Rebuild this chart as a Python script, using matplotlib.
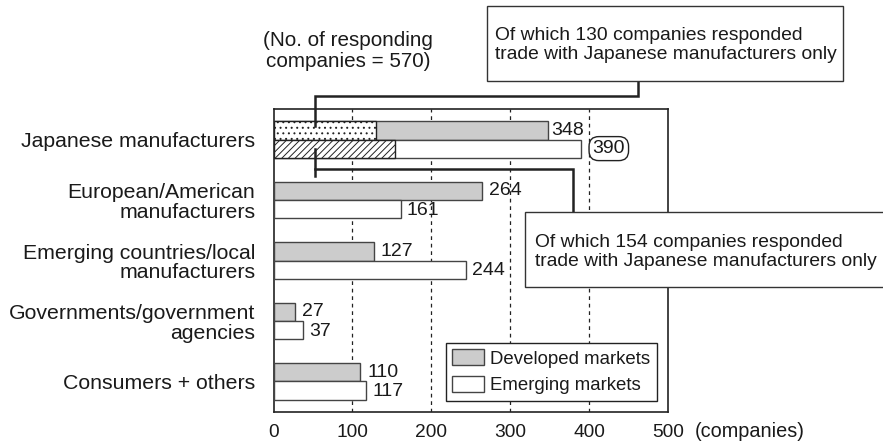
import numpy as np
import matplotlib
matplotlib.use('Agg')
import matplotlib.pyplot as plt
from matplotlib.patches import Rectangle

plt.rcParams['font.family'] = ['Liberation Sans', 'DejaVu Sans']
plt.rcParams['hatch.linewidth'] = 0.7

categories = ['Japanese manufacturers',
              'European/American\nmanufacturers',
              'Emerging countries/local\nmanufacturers',
              'Governments/government\nagencies',
              'Consumers + others']
developed = [348, 264, 127, 27, 110]
emerging = [390, 161, 244, 37, 117]
jp_only_developed = 130
jp_only_emerging = 154
xticks = [0, 100, 200, 300, 400, 500]

W, H = 883, 444
fig = plt.figure(figsize=(W / 100, H / 100), dpi=100)
ax = fig.add_axes([273.5 / W, 1 - 411.7 / H, 394.8 / W, 302.4 / H])

y = np.arange(len(categories))
h = 0.3
edge = '#444444'
txt = '#1a1a1a'

ax.barh(y - h / 2, developed, height=h, color='#cccccc', edgecolor=edge,
        linewidth=1, label='Developed markets', zorder=3)
ax.barh(y + h / 2, emerging, height=h, color='white', edgecolor=edge,
        linewidth=1, label='Emerging markets', zorder=3)

# Japanese-only parts of the first group
ax.barh(y[0] - h / 2, jp_only_developed, height=h, color='white',
        edgecolor='#222222', hatch='...', linewidth=1, zorder=4)
ax.barh(y[0] + h / 2, jp_only_emerging, height=h, color='white',
        edgecolor='#222222', hatch='/////', linewidth=1, zorder=4)

# value labels
for i, v in enumerate(developed):
    off = 3 if i == 0 else 7
    ax.annotate(str(v), (v, y[i] - h / 2), xytext=(off * 0.72, 0),
                textcoords='offset points', va='center', ha='left',
                fontsize=14, color=txt)
for i, v in enumerate(emerging):
    if i == 0:
        ax.annotate(str(v), (v, y[i] + h / 2), xytext=(8, 0),
                    textcoords='offset points', va='center', ha='left',
                    fontsize=14, color=txt,
                    bbox=dict(boxstyle='round,pad=0.18,rounding_size=0.5',
                              fc='white', ec='#222222', lw=1))
    else:
        ax.annotate(str(v), (v, y[i] + h / 2), xytext=(4.5, -1),
                    textcoords='offset points', va='center', ha='left',
                    fontsize=14, color=txt)

ax.set_xlim(0, 500)
ax.set_ylim(len(categories) - 0.5, -0.5)
ax.set_xticks(xticks)
ax.set_xticklabels([str(t) for t in xticks], fontsize=13.8, color=txt)
ax.set_yticks(y)
ax.set_yticklabels(categories, fontsize=15.3, color=txt, linespacing=1.05)
ax.tick_params(length=0)
ax.tick_params(axis='x', pad=8.5)
ax.tick_params(axis='y', pad=13)
for x in xticks[1:-1]:
    ax.axvline(x, color='#222222', linestyle=(0, (3, 3)), linewidth=0.9, zorder=1)
for s in ax.spines.values():
    s.set_color('#222222')
    s.set_linewidth(1.2)

leg = ax.legend(loc='lower right', bbox_to_anchor=(0.9706, 0.0354),
                fancybox=False, edgecolor='#222222', framealpha=1,
                fontsize=13.4, handlelength=1.67, handleheight=0.97,
                labelspacing=0.45, borderpad=0.35, handletextpad=0.35,
                borderaxespad=0)
leg.get_frame().set_linewidth(1)
for t in leg.get_texts():
    t.set_color(txt)

fig.text(695 / W, 1 - 431 / H, '(companies)', fontsize=14.3, color=txt,
         va='center', ha='left')
fig.text(348 / W, 1 - 51 / H, '(No. of responding\ncompanies = 570)',
         fontsize=14.9, color=txt, ha='center', va='center',
         linespacing=1.1)

# callout boxes
fig.patches.append(Rectangle((486.7 / W, 1 - 81 / H), (843 - 486.7) / W, 75 / H,
                             transform=fig.transFigure, fc='white',
                             ec='#333333', lw=1))
fig.text(495 / W, 1 - 45 / H,
         'Of which 130 companies responded\ntrade with Japanese manufacturers only',
         fontsize=13.9, color=txt, ha='left', va='center', linespacing=1.2)
fig.patches.append(Rectangle((525 / W, 1 - 287 / H), (920 - 525) / W, 75.3 / H,
                             transform=fig.transFigure, fc='white',
                             ec='#333333', lw=1, zorder=5))
fig.text(535 / W, 1 - 252 / H,
         'Of which 154 companies responded\ntrade with Japanese manufacturers only',
         fontsize=13.9, color=txt, ha='left', va='center', linespacing=1.2,
         zorder=6)

# leader lines (data coordinates)
ax.plot([53, 53, 461, 461], [-0.22, -0.728, -0.728, -0.967], color='#222222',
        lw=1.8, clip_on=False, zorder=6, solid_joinstyle='miter')
ax.plot([53, 53, 379.3, 379.3], [0.6, 0.492, 0.492, 1.193], color='#222222',
        lw=1.8, clip_on=False, zorder=6, solid_joinstyle='miter')
ax.plot([53, 53], [0.15, 0.49], color='#222222', lw=1.8, clip_on=False, zorder=6)

fig.savefig('out.png', dpi=100)
